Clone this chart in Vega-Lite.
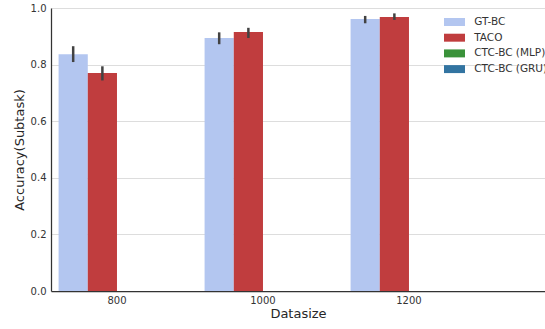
{
  "$schema": "https://vega.github.io/schema/vega-lite/v6.json",
  "width": 494,
  "height": 283,
  "autosize": "none",
  "padding": {"left": 51, "top": 8, "right": 0, "bottom": 38},
  "background": "white",
  "config": {
    "view": {"stroke": null},
    "font": "DejaVu Sans",
    "axis": {"labelFont": "DejaVu Sans", "titleFont": "DejaVu Sans", "labelColor": "#333333", "titleColor": "#262626", "titleFontWeight": "normal"}
  },
  "data": {
    "values": [
      {"datasize": "800", "method": "GT-BC", "value": 0.837, "lo": 0.809, "hi": 0.865},
      {"datasize": "800", "method": "TACO", "value": 0.770, "lo": 0.744, "hi": 0.794},
      {"datasize": "1000", "method": "GT-BC", "value": 0.894, "lo": 0.872, "hi": 0.914},
      {"datasize": "1000", "method": "TACO", "value": 0.915, "lo": 0.894, "hi": 0.930},
      {"datasize": "1200", "method": "GT-BC", "value": 0.961, "lo": 0.946, "hi": 0.972},
      {"datasize": "1200", "method": "TACO", "value": 0.968, "lo": 0.958, "hi": 0.981}
    ]
  },
  "encoding": {
    "x": {
      "field": "datasize", "type": "nominal", "sort": ["800", "1000", "1200"],
      "scale": {"domain": ["800", "1000", "1200"], "paddingInner": 0.2, "paddingOuter": 0.2918, "align": 0.089},
      "axis": {"title": "Datasize", "labelAngle": 0, "ticks": false, "labelFontSize": 10, "labelPadding": 4, "titleFontSize": 13, "titlePadding": 2, "domainColor": "#333333", "domainWidth": 1.25, "grid": false}
    },
    "xOffset": {
      "field": "method", "type": "nominal",
      "scale": {"domain": ["GT-BC", "TACO", "CTC-BC (MLP)", "CTC-BC (GRU)"], "paddingInner": 0, "paddingOuter": 0}
    }
  },
  "layer": [
    {
      "mark": {"type": "bar"},
      "encoding": {
        "y": {
          "field": "value", "type": "quantitative",
          "scale": {"domain": [0, 1], "nice": false},
          "axis": {"title": "Accuracy(Subtask)", "values": [0, 0.2, 0.4, 0.6, 0.8, 1.0], "format": ".1f", "ticks": false, "labelFontSize": 10, "labelPadding": 5, "titleFontSize": 13, "titlePadding": 4, "domainColor": "#333333", "domainWidth": 1.25, "gridColor": "#dddddd", "gridWidth": 1}
        },
        "color": {
          "field": "method", "type": "nominal",
          "scale": {"domain": ["GT-BC", "TACO", "CTC-BC (MLP)", "CTC-BC (GRU)"], "range": ["#b3c6f0", "#c03d3e", "#3a923a", "#3274a1"]},
          "legend": {
            "title": null, "orient": "none", "legendX": 398, "legendY": 8.5,
            "symbolType": "M-2,-0.76H2V0.76H-2Z", "symbolSize": 110, "symbolStrokeWidth": 0, "symbolOpacity": 1,
            "labelFontSize": 10.5, "labelColor": "#333333", "labelOffset": 14.25, "rowPadding": 4.7
          }
        }
      }
    },
    {
      "mark": {"type": "rule", "color": "#424242", "strokeWidth": 2.5},
      "encoding": {
        "y": {"field": "lo", "type": "quantitative"},
        "y2": {"field": "hi"}
      }
    }
  ]
}
